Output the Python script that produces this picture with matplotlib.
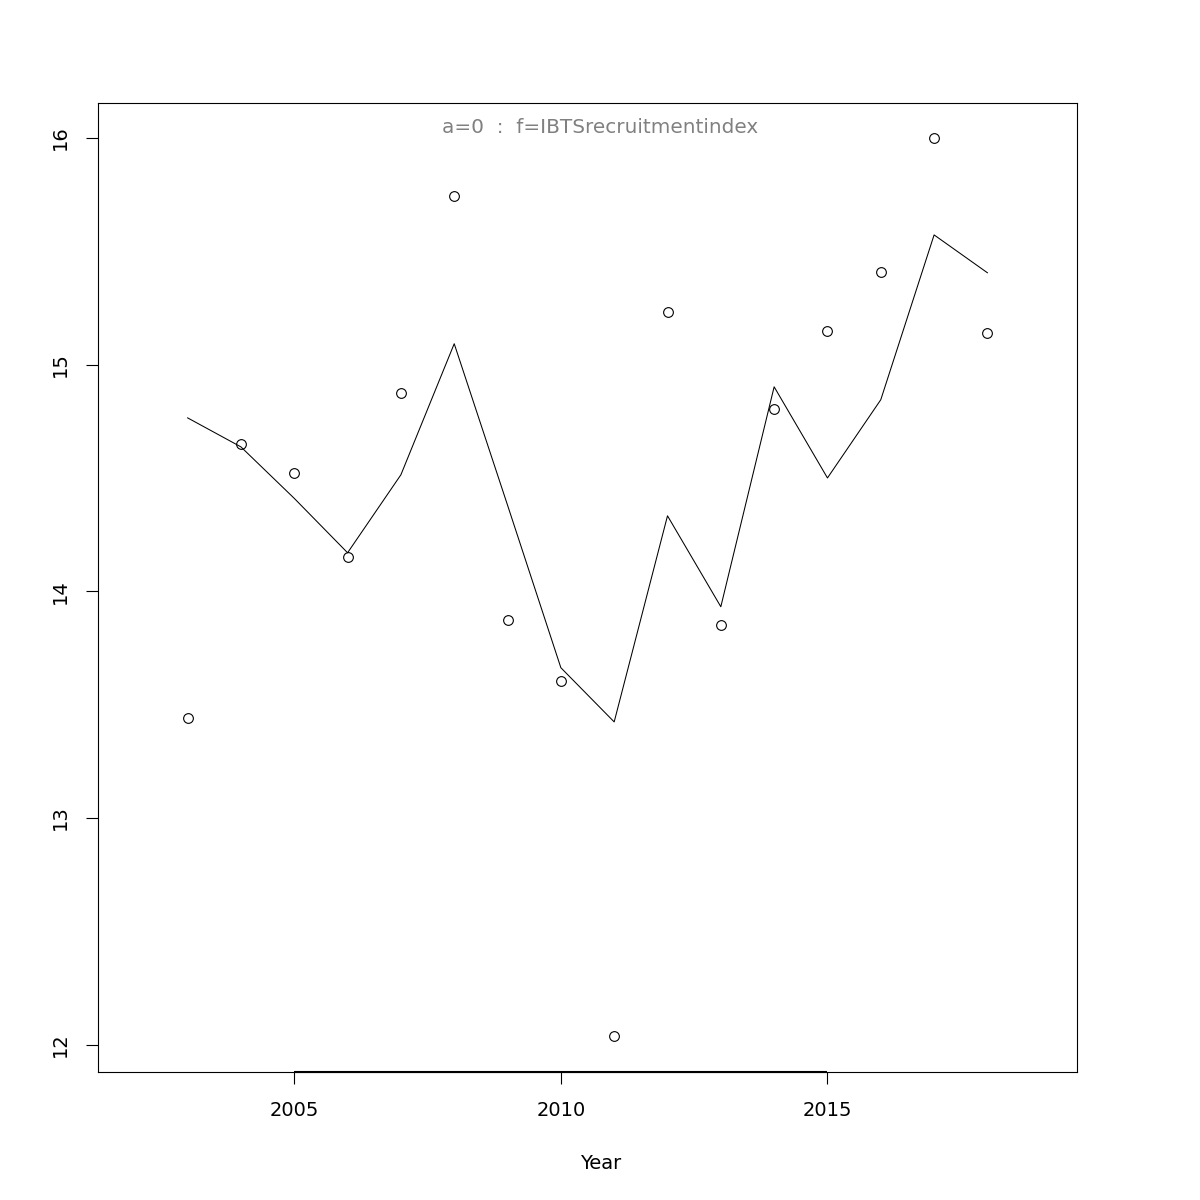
import numpy as np
import matplotlib
matplotlib.use("Agg")
import matplotlib.pyplot as plt

# observed index (points) and fitted values (line)
years = np.arange(2003, 2019)
observed = [13.44, 14.65, 14.52, 14.15, 14.875, 15.745, 13.875, 13.605,
            12.04, 15.23, 13.85, 14.805, 15.15, 15.41, 16.0, 15.14]
fitted = [14.765, 14.637, 14.41, 14.17, 14.514, 15.092, 14.38, 13.663,
          13.424, 14.333, 13.932, 14.902, 14.50, 14.845, 15.572, 15.405]
xticks = [2005, 2010, 2015]
yticks = [12, 13, 14, 15, 16]
title = "a=0  :  f=IBTSrecruitmentindex"

fig = plt.figure(figsize=(12, 12), dpi=100)
ax = fig.add_axes([0.0817, 0.1067, 0.8158, 0.8075])

ax.plot(years, observed, "o", mfc="none", mec="black", ms=7, mew=0.8)
ax.plot(years, fitted, "-", color="black", lw=0.75)

ax.set_xlim(2001.32, 2019.68)
ax.set_ylim(11.88, 16.154)
ax.set_xticks(xticks)
ax.set_yticks(yticks)
ax.set_yticklabels([str(v) for v in yticks], rotation=90, va="center")
ax.tick_params(direction="out", length=8.6, width=0.8, labelsize=14, pad=12)
ax.tick_params(axis="y", pad=12)
for s in ax.spines.values():
    s.set_linewidth(0.8)

# R style axis line over the tick range
ax.plot([xticks[0], xticks[-1]], [ax.get_ylim()[0]] * 2, color="black",
        lw=1.5, clip_on=False, solid_capstyle="butt")

ax.set_xlabel("Year", fontsize=14, labelpad=24)
ax.xaxis.set_label_coords(0.513, -0.085)
ax.text(0.513, 0.975, title, transform=ax.transAxes, ha="center", va="center",
        fontsize=14.4, color="#808080")

fig.savefig("out.png", dpi=100)
